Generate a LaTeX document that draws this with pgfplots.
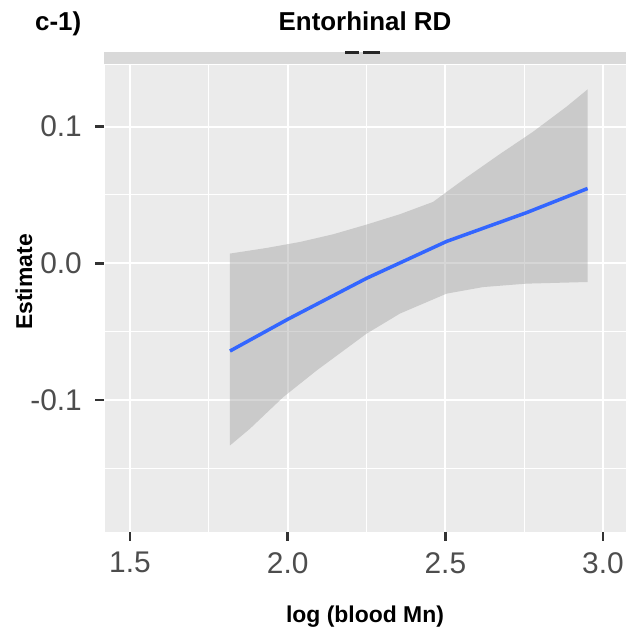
\documentclass[border=0pt]{standalone}
\usepackage{fontspec}
\setmainfont{Liberation Sans}
\usepackage{pgfplots}
\pgfplotsset{compat=1.18}

\definecolor{panelbg}{HTML}{EBEBEB}
\definecolor{stripbg}{HTML}{D9D9D9}
\definecolor{ticklab}{HTML}{4D4D4D}
\definecolor{tickcol}{HTML}{333333}
\definecolor{fitblue}{HTML}{3366FF}

\begin{document}
\begin{tikzpicture}
\begin{axis}[
    at={(104bp,104bp)}, anchor=south west,
    scale only axis, width=522bp, height=468bp,
    xmin=1.4175, xmax=3.0729,
    ymin=-0.1966, ymax=0.1458,
    axis background/.style={fill=panelbg},
    axis line style={white, line width=0.5bp},
    tick pos=left, tick align=outside,
    major tick length=9bp, minor tick length=0pt,
    xtick={1.5,2,2.5,3}, xticklabels={1.5,2.0,2.5,3.0},
    ytick={-0.1,0,0.1}, yticklabels={-0.1,0.0,0.1},
    minor xtick={1.75,2.25,2.75},
    minor ytick={-0.15,-0.05,0.05},
    grid=both,
    major grid style={white, line width=2bp},
    minor grid style={white, line width=1bp},
    ticklabel style={font=\fontsize{30}{30}\selectfont, text=ticklab, inner sep=0pt},
    xticklabel style={anchor=north, yshift=-11bp},
    yticklabel style={anchor=east, xshift=-13bp},
]
% confidence band (upper edge left to right, lower edge back)
\addplot[draw=none, fill=black!40, fill opacity=0.4] coordinates {
    (1.817,0.0071) (1.933,0.0112) (2.039,0.0156) (2.144,0.0212)
    (2.250,0.0283) (2.356,0.0359) (2.461,0.0449) (2.504,0.0522)
    (2.567,0.0628) (2.673,0.0799) (2.778,0.0962) (2.884,0.1145)
    (2.951,0.1272)
    (2.951,-0.0137) (2.757,-0.0149) (2.620,-0.0174) (2.504,-0.0222)
    (2.356,-0.0368) (2.250,-0.0515) (2.092,-0.0784) (1.986,-0.0979)
    (1.880,-0.1211) (1.817,-0.1333)
} -- cycle;
% fitted line
\addplot[fitblue, line width=3.5bp] coordinates {
    (1.817,-0.0642) (2.000,-0.0410) (2.250,-0.0110) (2.504,0.0160)
    (2.757,0.0370) (2.951,0.0547)
};
% tick positions, drawn after the axis
\coordinate (xtA) at (axis cs:1.5,-0.1966);
\coordinate (xtB) at (axis cs:2.0,-0.1966);
\coordinate (xtC) at (axis cs:2.5,-0.1966);
\coordinate (xtD) at (axis cs:3.0,-0.1966);
\coordinate (ytA) at (axis cs:1.4175,-0.1);
\coordinate (ytB) at (axis cs:1.4175,0);
\coordinate (ytC) at (axis cs:1.4175,0.1);
\end{axis}
\foreach \nm in {xtA,xtB,xtC,xtD}
    \fill[tickcol] ([xshift=-1.3bp]\nm) rectangle ([xshift=1.3bp,yshift=-9bp]\nm);
\foreach \nm in {ytA,ytB,ytC}
    \fill[tickcol] ([yshift=-1.3bp]\nm) rectangle ([xshift=-9bp,yshift=1.3bp]\nm);
% facet strip with clipped label
\fill[stripbg] (104bp,572bp) rectangle (626bp,584bp);
\draw[black!85, line width=3bp] (345bp,583bp) -- (359bp,583bp);
\draw[black!85, line width=3bp] (363bp,583bp) -- (380bp,583bp);
% titles and axis labels
\node[anchor=base, inner sep=0pt, font=\bfseries\fontsize{26}{26}\selectfont] at (365bp,605bp) {Entorhinal RD};
\node[anchor=base west, inner sep=0pt, font=\bfseries\fontsize{26}{26}\selectfont] at (35bp,605bp) {c-1)};
\node[anchor=base, inner sep=0pt, font=\bfseries\fontsize{23}{23}\selectfont] at (365bp,14bp) {log (blood Mn)};
\node[anchor=base, rotate=90, inner sep=0pt, font=\bfseries\fontsize{23}{23}\selectfont] at (32bp,354bp) {Estimate};
\pgfresetboundingbox
\useasboundingbox (0,0) rectangle (626bp,636bp);
\end{tikzpicture}
\end{document}
